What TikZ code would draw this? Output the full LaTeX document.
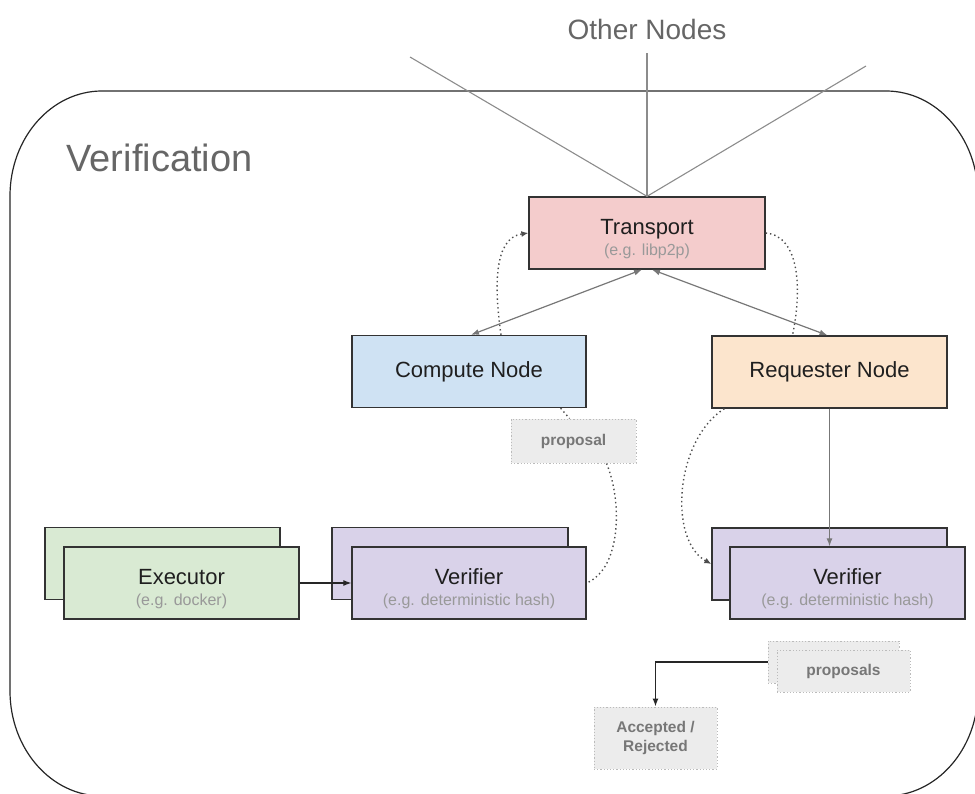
\documentclass[tikz,border=0pt]{standalone}
\usepackage{fontspec}
\setmainfont{Liberation Sans}
\usetikzlibrary{arrows.meta,calc}

\definecolor{trfill}{HTML}{F4CCCC}
\definecolor{cnfill}{HTML}{CFE2F3}
\definecolor{rqfill}{HTML}{FCE5CD}
\definecolor{vffill}{HTML}{D9D2E9}
\definecolor{exfill}{HTML}{D9EAD3}
\definecolor{boxline}{HTML}{333333}
\definecolor{subgray}{HTML}{999999}
\definecolor{titlegray}{HTML}{666666}
\definecolor{linkgray}{HTML}{777777}
\definecolor{peergray}{HTML}{8C8C8C}
\definecolor{notefill}{HTML}{ECECEC}
\definecolor{noteline}{HTML}{BBBBBB}
\definecolor{notetext}{HTML}{777777}
\definecolor{dotline}{HTML}{4D4D4D}

\newcommand{\subfont}{\fontsize{16}{19}\selectfont\color{subgray}}
% invisible strut that pushes two-line box texts slightly down
\newcommand{\tstrut}{\rule{0pt}{28pt}}

\begin{document}
\begin{tikzpicture}[x=1pt,y=-1pt,
  compbox/.style={draw=boxline, line width=1.3pt, inner sep=0pt, align=center,
    minimum width=#1, minimum height=72pt,
    font=\fontsize{22}{26}\selectfont, text=black!88},
  compbox/.default=235pt,
  notebox/.style={draw=noteline, fill=notefill, line width=1pt,
    dash pattern=on 1.2pt off 2pt, inner sep=0pt, align=center,
    font=\bfseries\fontsize{15.5}{19}\selectfont, text=notetext},
  peerlink/.style={draw=peergray, line width=1.1pt},
  duplex/.style={draw=linkgray, line width=1.2pt,
    {Latex[length=8pt,width=6pt]}-{Latex[length=8pt,width=6pt]}},
  flow/.style={draw=black!85, line width=1.2pt, -{Latex[length=8pt,width=6pt]}},
  greyflow/.style={draw=linkgray, line width=1.2pt, -{Latex[length=8pt,width=6pt]}},
  dotlink/.style={draw=dotline, line width=1.4pt, dash pattern=on 1.4pt off 3pt},
]
\useasboundingbox (0,0) rectangle (975,794);
\clip (0,0) rectangle (975,794);

% outer frame with elliptical corners
\draw[draw=black!85, line width=1.2pt]
  (102,91) -- (886,91) .. controls (936.8,91) and (978,138) .. (978,196)
  -- (978,691) .. controls (978,749) and (936.8,796) .. (886,796)
  -- (102,796) .. controls (51.2,796) and (10,749) .. (10,691)
  -- (10,196) .. controls (10,138) and (51.2,91) .. (102,91) -- cycle;

\node[anchor=base west, font=\fontsize{38}{44}\selectfont, text=titlegray]
  (verif) at (63,172) {Verification};
\node[anchor=base, font=\fontsize{28}{32}\selectfont, text=titlegray]
  (others) at (647,40) {Other Nodes};

% free ends of the links to the other nodes
\coordinate (peerL) at (410,57);
\coordinate (peerM) at (647,53);
\coordinate (peerR) at (866,66);

% boxes
\node[compbox=236pt, fill=trfill] (tr) at (647,233)
  {\tstrut Transport\\[-5pt]{\subfont (e.g. libp2p)}};
\node[compbox=234pt, fill=cnfill] (cn) at (469,371.5) {Compute Node};
\node[compbox=235pt, fill=rqfill] (rq) at (829.5,372) {Requester Node};

\node[compbox=235pt, fill=exfill] (exb) at (162.5,563.5) {};
\node[compbox=235pt, fill=exfill] (ex) at (181.5,583)
  {\tstrut Executor\\[-5pt]{\subfont (e.g. docker)}};

\node[compbox=236pt, fill=vffill] (vlb) at (450,563.5) {};
\node[compbox=234pt, fill=vffill] (vl) at (469,583)
  {\tstrut Verifier\\[-5pt]{\subfont (e.g. deterministic hash)}};

\node[compbox=235pt, fill=vffill] (vrb) at (829.5,564) {};
\node[compbox=235pt, fill=vffill] (vr) at (847.5,583)
  {\tstrut Verifier\\[-5pt]{\subfont (e.g. deterministic hash)}};

\node[notebox, minimum width=125pt, minimum height=44pt] (pp) at (573.5,441) {proposal};
\node[notebox, minimum width=131pt, minimum height=42pt] (psb) at (833.5,662) {};
\node[notebox, minimum width=133pt, minimum height=42pt] (ps) at (843.5,671) {proposals};
\node[notebox, minimum width=123pt, minimum height=62pt] (ac) at (655.5,738)
  {Accepted /\\Rejected};

% links to the other nodes
\draw[peerlink] (tr.north) -- (peerL);
\draw[peerlink] (tr.north) -- (peerM);
\draw[peerlink] (tr.north) -- (peerR);

% transport links
\draw[duplex] ([xshift=-5pt]tr.south) -- ([xshift=2pt]cn.north);
\draw[duplex] ([xshift=5pt]tr.south) -- ([xshift=-2pt]rq.north);

% dotted flows around the transport
\draw[dotlink, -{Latex[length=7pt,width=6pt]}]
  ([xshift=32pt]cn.north) .. controls (494,285) and (494,238) .. (tr.west);
\draw[dotlink]
  (tr.east) .. controls (800,236) and (802,290) .. ([xshift=-37pt]rq.north);

% compute side
\draw[dotlink] ([xshift=-26pt]cn.south east) -- ([xshift=-4pt]pp.north);
\draw[dotlink] ([xshift=33pt]pp.south) .. controls (622,500) and (622,568) .. (vl.east);
\draw[flow] (ex.east) -- (vl.west);

% requester side
\draw[greyflow] (rq.south) -- (rq.south |- vr.north);
\draw[dotlink, -{Latex[length=7pt,width=6pt]}]
  ([xshift=13pt]rq.south west) .. controls (675,440) and (668,540) .. (vrb.west);

% verdict
\draw[flow] (psb.west) -| (ac.north);
\end{tikzpicture}
\end{document}
